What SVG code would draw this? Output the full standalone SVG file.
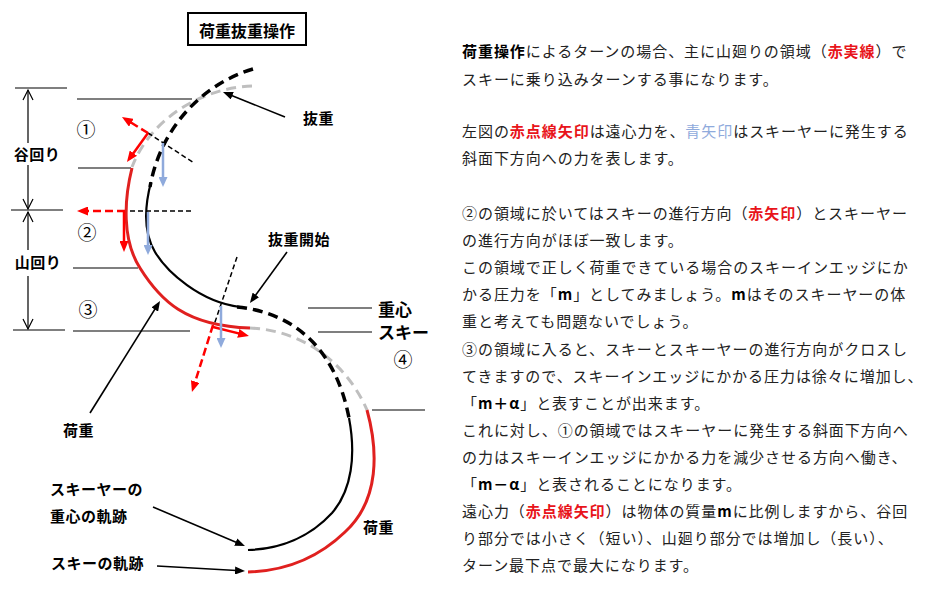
<svg xmlns="http://www.w3.org/2000/svg" width="929" height="595" viewBox="0 0 929 595">
<style>
.lbl{font-family:"Noto Sans CJK JP","Noto Sans",sans-serif;font-weight:bold;font-size:15px;fill:#000;letter-spacing:0.5px}
.big{font-family:"Noto Sans CJK JP","Noto Sans",sans-serif;font-weight:bold;font-size:17px;fill:#000}
.num{font-family:"Noto Sans CJK JP","Noto Sans",sans-serif;font-size:19px;fill:#000}
.body{font-family:"Noto Sans CJK JP","Noto Sans",sans-serif;font-size:15px;fill:#222;letter-spacing:0.95px}
.b{font-weight:bold;fill:#000}
.rb{font-weight:bold;fill:#e8141a}
.bl{fill:#8faadc}
.thin{stroke:#000;stroke-width:1.2;fill:none}
.tdash{stroke:#000;stroke-width:1.5;fill:none;stroke-dasharray:5 3}
.red{stroke:#e0201f;stroke-width:3;fill:none}
.blk{stroke:#000;stroke-width:2.2;fill:none}
.blkd{stroke:#000;stroke-width:3.5;fill:none;stroke-dasharray:10 6}
.gryd{stroke:#bfbfbf;stroke-width:3;fill:none;stroke-dasharray:10 6}
.ra{stroke:#ff0000;stroke-width:2.5;fill:none;marker-end:url(#mr)}
.rad{stroke:#ff0000;stroke-width:2.5;fill:none;stroke-dasharray:8 4;marker-end:url(#mr)}
.ba{stroke:#8faadc;stroke-width:2.5;fill:none;marker-end:url(#mb)}
.ka{stroke:#000;stroke-width:1.6;fill:none;marker-end:url(#mk)}
</style>
<defs>
<marker id="mr" viewBox="0 0 11 9" refX="6.5" refY="4.5" markerWidth="11" markerHeight="9" markerUnits="userSpaceOnUse" orient="auto"><path d="M0,0 L11,4.5 L0,9 z" fill="#ff0000"/></marker>
<marker id="mb" viewBox="0 0 10 9" refX="5.5" refY="4.5" markerWidth="10" markerHeight="9" markerUnits="userSpaceOnUse" orient="auto"><path d="M0,0 L10,4.5 L0,9 z" fill="#8faadc"/></marker>
<marker id="mk" viewBox="0 0 10 8" refX="6" refY="4" markerWidth="10" markerHeight="8" markerUnits="userSpaceOnUse" orient="auto"><path d="M0,0 L10,4 L0,8 z" fill="#000"/></marker>
</defs>
<rect width="929" height="595" fill="#fff"/>

<g id="title">
<rect x="188" y="13" width="118" height="32" fill="#fff" stroke="#000" stroke-width="2"/>
<text x="247" y="37" text-anchor="middle" class="lbl" style="font-size:16px;letter-spacing:0">荷重抜重操作</text>
</g>

<g id="dimensions">
<path class="thin" d="M15,88 H67 M11,210 H63 M13,330 H65"/>
<path class="thin" d="M28,90 V143 M28,165 V209 M28,212 V250 M28,276 V329"/>
<path class="thin" d="M23,100 L28,90 L33,100 M23,199 L28,209 L33,199 M23,222 L28,212 L33,222 M23,319 L28,329 L33,319"/>
<text x="37" y="160" text-anchor="middle" class="lbl">谷回り</text>
<text x="38" y="268" text-anchor="middle" class="lbl">山回り</text>
</g>

<g id="reference-lines">
<path class="thin" d="M77,99 H192 M78,168 H131 M73,268 H138 M73,331 H190 M308,308 H372 M318,332 H372 M372,410 H425"/>
</g>

<g id="trajectories">
<path class="gryd" d="M252,86 C200,88 150,120 132,167"/>
<path class="red" d="M132,168 C124,200 122,240 140,268 C160,300 185,326 250,328"/>
<path class="gryd" d="M250,328 C300,330 345,360 367,410"/>
<path class="red" d="M367,410 C378,450 380,500 345,532 C318,558 285,571 248,572"/>
<path class="blkd" d="M253,69 C200,85 160,130 150,187"/>
<path class="blk" d="M151,182 C145,205 143,232 155,252 C167,272 200,302 240,307"/>
<path class="blkd" d="M237,307 C290,312 335,345 349,418"/>
<path class="blk" d="M349,418 C356,455 352,490 332,513 C310,537 280,549 248,550"/>
</g>

<g id="forces">
<path class="tdash" d="M148,133 L194,163"/>
<path class="rad" d="M148,133 L125.8,119.4"/>
<path class="ra" d="M148,133 L129.6,158.4"/>
<path class="ba" d="M163,143 V182.5"/>
<path class="tdash" d="M130,211 H193"/>
<path class="rad" d="M125,211 H81.5"/>
<path class="ra" d="M124,211 V247.5"/>
<path class="ba" d="M148,212 V250.5"/>
<path class="tdash" d="M237,257 L214,325"/>
<path class="rad" d="M213,325 L193.3,387.7"/>
<path class="ra" d="M213,327 L244.6,334.9"/>
<path class="ba" d="M221,306 V343.5"/>
</g>

<g id="pointers">
<path class="ka" d="M285,117 L226.7,93.5"/>
<path class="ka" d="M287,252 L252.3,299.8"/>
<path class="ka" d="M90,413 L157.9,304.4"/>
<path class="ka" d="M153,507 L241.3,544.4"/>
<path class="ka" d="M157,566 L241,570.8"/>
</g>

<g id="labels">
<text x="86" y="137" text-anchor="middle" class="num">①</text>
<text x="87" y="240" text-anchor="middle" class="num">②</text>
<text x="88" y="317" text-anchor="middle" class="num">③</text>
<text x="403" y="367" text-anchor="middle" class="num">④</text>
<text x="303" y="124" class="lbl">抜重</text>
<text x="268" y="245" class="lbl">抜重開始</text>
<text x="378" y="316" class="big">重心</text>
<text x="378" y="339" class="big">スキー</text>
<text x="63" y="436" class="lbl">荷重</text>
<text x="50" y="495" class="lbl">スキーヤーの</text>
<text x="50" y="522" class="lbl">重心の軌跡</text>
<text x="51" y="569" class="lbl">スキーの軌跡</text>
<text x="363" y="533" class="lbl">荷重</text>
</g>

<g id="description" class="body">
<text x="462" y="57.4"><tspan class="b">荷重操作</tspan>によるターンの場合、主に山廻りの領域（<tspan class="rb">赤実線</tspan>）で</text>
<text x="462" y="84.5">スキーに乗り込みターンする事になります。</text>
<text x="462" y="137.4">左図の<tspan class="rb">赤点線矢印</tspan>は遠心力を、<tspan class="bl">青矢印</tspan>はスキーヤーに発生する</text>
<text x="462" y="164.4">斜面下方向への力を表します。</text>
<text x="462" y="219">②の領域に於いてはスキーの進行方向（<tspan class="rb">赤矢印</tspan>）とスキーヤー</text>
<text x="462" y="246.1">の進行方向がほぼ一致します。</text>
<text x="462" y="273.2">この領域で正しく荷重できている場合のスキーインエッジにか</text>
<text x="462" y="300.3">かる圧力を「<tspan class="b">m</tspan>」としてみましょう。<tspan class="b">m</tspan>はそのスキーヤーの体</text>
<text x="462" y="327.4">重と考えても問題ないでしょう。</text>
<text x="462" y="354.5">③の領域に入ると、スキーとスキーヤーの進行方向がクロスし</text>
<text x="462" y="381.6">てきますので、スキーインエッジにかかる圧力は徐々に増加し、</text>
<text x="462" y="408.7">「<tspan class="b">m＋α</tspan>」と表すことが出来ます。</text>
<text x="462" y="435.8">これに対し、①の領域ではスキーヤーに発生する斜面下方向へ</text>
<text x="462" y="462.9">の力はスキーインエッジにかかる力を減少させる方向へ働き、</text>
<text x="462" y="490">「<tspan class="b">m－α</tspan>」と表されることになります。</text>
<text x="462" y="517.1">遠心力（<tspan class="rb">赤点線矢印</tspan>）は物体の質量<tspan class="b">m</tspan>に比例しますから、谷回</text>
<text x="462" y="544.2">り部分では小さく（短い）、山廻り部分では増加し（長い）、</text>
<text x="462" y="571.3">ターン最下点で最大になります。</text>
</g>
</svg>
